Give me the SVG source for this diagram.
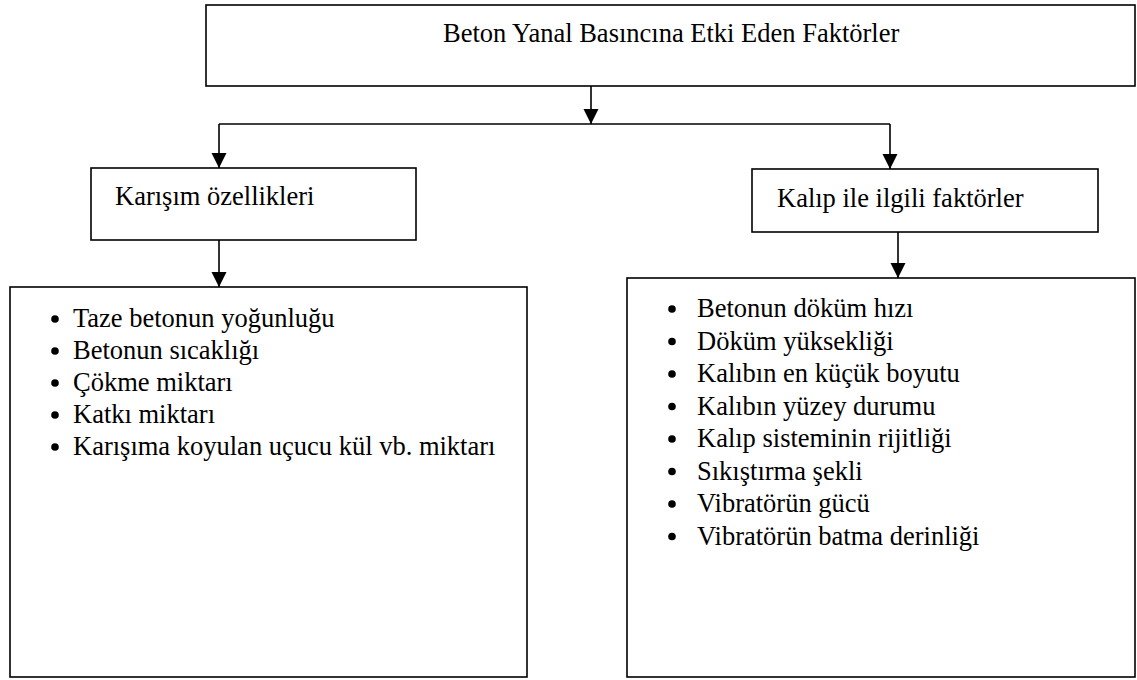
<svg xmlns="http://www.w3.org/2000/svg" width="1137" height="680" viewBox="0 0 1137 680">
<style>
.box{fill:#fff;stroke:#000;stroke-width:1.6}
.t{font-family:"Liberation Serif","Times New Roman",serif;font-size:26.5px;fill:#000}
.c{fill:none;stroke:#000;stroke-width:1.6}
.b{fill:#000}
</style>
<defs>
<marker id="ah" markerUnits="userSpaceOnUse" markerWidth="16" markerHeight="16" refX="15" refY="7.5" orient="auto" viewBox="0 0 16 16">
<path d="M0,0 L15,7.5 L0,15 z" fill="#000"/>
</marker>
</defs>
<rect width="1137" height="680" fill="#fff"/>
<g id="connectors">
<path class="c" d="M591,86 V124" marker-end="url(#ah)"/>
<path class="c" d="M219,124 H890"/>
<path class="c" d="M219,124 V168" marker-end="url(#ah)"/>
<path class="c" d="M890,124 V169" marker-end="url(#ah)"/>
<path class="c" d="M219,240 V287" marker-end="url(#ah)"/>
<path class="c" d="M898,232 V278" marker-end="url(#ah)"/>
</g>
<g id="node-title">
<rect class="box" x="206" y="5" width="929" height="81"/>
<text class="t" x="443" y="42">Beton Yanal Basıncına Etki Eden Faktörler</text>
</g>
<g id="node-karisim">
<rect class="box" x="91" y="168" width="325" height="72"/>
<text class="t" x="115" y="205">Karışım özellikleri</text>
</g>
<g id="node-kalip">
<rect class="box" x="752" y="169" width="346" height="63"/>
<text class="t" x="777" y="207">Kalıp ile ilgili faktörler</text>
</g>
<g id="node-karisim-list">
<rect class="box" x="10" y="287" width="517" height="390"/>
<circle class="b" cx="55" cy="319" r="3.8"/>
<text class="t" x="73" y="327">Taze betonun yoğunluğu</text>
<circle class="b" cx="55" cy="351" r="3.8"/>
<text class="t" x="73" y="359">Betonun sıcaklığı</text>
<circle class="b" cx="55" cy="383" r="3.8"/>
<text class="t" x="73" y="391">Çökme miktarı</text>
<circle class="b" cx="55" cy="415" r="3.8"/>
<text class="t" x="73" y="423">Katkı miktarı</text>
<circle class="b" cx="55" cy="447" r="3.8"/>
<text class="t" x="73" y="455">Karışıma koyulan uçucu kül vb. miktarı</text>
</g>
<g id="node-kalip-list">
<rect class="box" x="627" y="278" width="508" height="399"/>
<circle class="b" cx="672" cy="309" r="3.8"/>
<text class="t" x="697" y="317">Betonun döküm hızı</text>
<circle class="b" cx="672" cy="341.5" r="3.8"/>
<text class="t" x="697" y="349.5">Döküm yüksekliği</text>
<circle class="b" cx="672" cy="374" r="3.8"/>
<text class="t" x="697" y="382">Kalıbın en küçük boyutu</text>
<circle class="b" cx="672" cy="406.5" r="3.8"/>
<text class="t" x="697" y="414.5">Kalıbın yüzey durumu</text>
<circle class="b" cx="672" cy="439" r="3.8"/>
<text class="t" x="697" y="447">Kalıp sisteminin rijitliği</text>
<circle class="b" cx="672" cy="471.5" r="3.8"/>
<text class="t" x="697" y="479.5">Sıkıştırma şekli</text>
<circle class="b" cx="672" cy="504" r="3.8"/>
<text class="t" x="697" y="512">Vibratörün gücü</text>
<circle class="b" cx="672" cy="536.5" r="3.8"/>
<text class="t" x="697" y="544.5">Vibratörün batma derinliği</text>
</g>
</svg>
